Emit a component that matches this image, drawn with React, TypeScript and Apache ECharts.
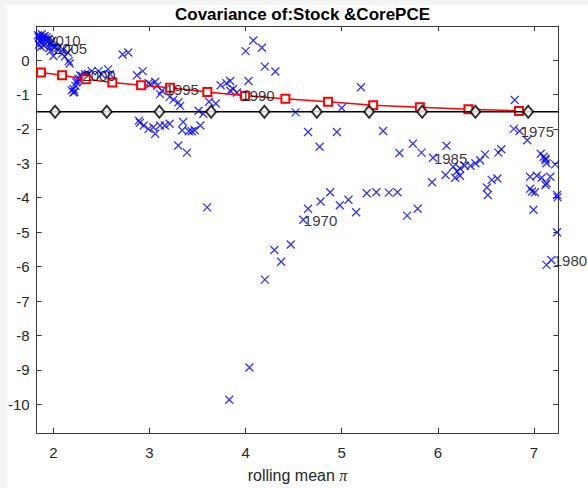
import React, { useEffect, useRef } from "react";
import * as echarts from "echarts";

// ---- data ----
const xTicks = [2, 3, 4, 5, 6, 7];
const yTicks = [-10, -9, -8, -7, -6, -5, -4, -3, -2, -1, 0];

const xMin = 1.827;
const xMax = 7.253;
const yMin = -10.835;
const yMax = 0.99;

// rolling covariance points (blue x)
const covTopLeft: [number, number][] = [
  [1.84, 0.72], [1.85, 0.65], [1.86, 0.7], [1.87, 0.6], [1.88, 0.75], [1.89, 0.68],
  [1.9, 0.62], [1.86, 0.55], [1.85, 0.45], [1.88, 0.5], [1.91, 0.7], [1.92, 0.58],
  [1.93, 0.66], [1.94, 0.52], [1.95, 0.62], [1.9, 0.42], [1.97, 0.5], [1.98, 0.45],
  [2.0, 0.4], [2.02, 0.38], [1.87, 0.38], [1.96, 0.35], [1.99, 0.56],
  [1.97, 0.26], [2.0, 0.12], [2.05, 0.36], [2.09, 0.18], [2.1, 0.3], [2.12, 0.1],
  [2.15, 0.22], [2.16, -0.03], [2.17, -0.1],
];
const covEarly: [number, number][] = [
  [2.19, -0.88], [2.21, -0.84], [2.21, -0.94], [2.22, -0.92], [2.23, -0.75], [2.24, -0.65],
  [2.25, -0.62], [2.26, -0.55], [2.28, -0.56], [2.28, -0.45], [2.3, -0.46], [2.3, -0.5],
  [2.33, -0.41], [2.33, -0.48], [2.36, -0.4], [2.4, -0.32], [2.47, -0.32], [2.5, -0.41],
  [2.57, -0.27], [2.59, -0.41],
  [2.72, 0.16], [2.78, 0.22],
  [2.87, -0.44], [2.93, -0.32], [2.99, -0.67], [3.01, -0.7], [3.06, -0.63], [3.08, -0.75],
  [3.13, -0.89], [3.11, -0.99], [3.21, -1.07], [3.25, -1.15], [3.3, -1.23], [3.32, -1.33],
  [2.89, -1.76], [2.9, -1.82], [2.94, -1.9], [2.99, -2.0], [3.04, -1.95], [3.06, -2.14],
  [3.11, -1.9], [3.16, -1.9], [3.21, -1.85], [3.35, -1.8], [3.34, -2.04], [3.41, -2.07],
  [3.44, -2.07], [3.47, -2.04], [3.53, -1.9], [3.3, -2.48], [3.39, -2.69],
  [3.51, -1.47], [3.56, -1.56], [3.62, -1.21], [3.69, -1.26], [3.74, -0.73], [3.8, -0.67],
  [3.84, -0.89], [3.91, -0.94], [4.03, -0.61], [3.98, -0.99], [3.84, -0.61], [3.87, -0.84],
  [4.01, -1.07],
  [4.0, 0.26], [4.08, 0.57], [4.17, 0.36], [4.2, -0.19], [4.31, -0.33],
];
const covMid: [number, number][] = [
  [4.52, -1.52], [4.65, -2.09], [4.95, -2.09], [5.0, -1.39], [5.2, -0.79], [4.77, -2.52],
  [5.43, -2.06], [5.6, -2.7], [5.74, -2.43], [5.83, -2.69], [6.09, -2.49],
  [6.49, -2.74], [6.63, -2.69], [6.66, -2.59], [6.8, -1.16], [6.79, -2.0], [6.85, -2.06],
  [6.93, -2.33], [7.07, -2.72], [7.1, -2.81], [7.12, -2.86], [7.12, -2.91], [7.13, -3.0],
  [7.22, -3.03],
  [5.95, -2.84], [6.44, -2.91], [6.39, -3.0], [6.34, -3.07], [6.28, -3.07], [6.23, -3.15],
  [6.2, -3.23], [6.16, -3.1], [6.08, -3.34], [6.18, -3.42], [6.23, -3.36], [5.94, -3.55],
  [6.52, -3.92], [6.51, -3.7], [6.56, -3.48], [6.62, -3.44],
  [6.96, -3.39], [7.03, -3.36], [7.08, -3.42], [7.17, -3.39], [7.13, -3.58], [7.12, -3.63],
  [6.96, -3.74], [6.98, -3.82], [7.01, -3.84], [7.24, -3.92], [7.245, -3.99], [6.995, -4.35],
  [7.24, -5.0], [7.18, -5.81], [7.13, -5.95],
];
const covLow: [number, number][] = [
  [3.6, -4.28], [4.2, -6.38], [4.3, -5.52], [4.37, -5.86], [4.47, -5.36], [4.6, -4.64],
  [4.65, -4.32], [4.78, -4.11], [4.88, -3.84], [4.98, -4.22], [5.07, -4.06], [5.15, -4.42],
  [5.26, -3.87], [5.36, -3.84], [5.49, -3.85], [5.58, -3.84], [5.68, -4.52], [5.79, -4.32],
  [4.04, -8.93], [3.83, -9.87],
];

// red fitted line with squares
const fitX = [1.872, 2.091, 2.337, 2.614, 2.913, 3.214, 3.602, 3.995, 4.414, 4.858, 5.327, 5.813, 6.318, 6.843];
const fitY = [-0.363, -0.44, -0.56, -0.65, -0.729, -0.806, -0.93, -1.037, -1.123, -1.21, -1.313, -1.371, -1.429, -1.477];

// black reference line with diamonds
const refY = -1.5;
const diamondX = [2.018, 2.556, 3.103, 3.641, 4.196, 4.741, 5.285, 5.837, 6.391, 6.94];

// year labels
const yearLabels = ["2010", "2005", "2000", "1995", "1990", "1985", "1980", "1975", "1970"];
const yearX = [1.931, 2.0, 2.296, 3.162, 3.95, 5.954, 7.2, 6.856, 4.601];
const yearY = [0.576, 0.346, -0.461, -0.844, -1.016, -2.87, -5.834, -2.073, -4.665];

const FONT = "'Liberation Sans', Arial, Helvetica, sans-serif";
const AXIS_COLOR = "#3a3a3a";
const TEXT_COLOR = "#262626";

export default function App() {
  const ref = useRef<HTMLDivElement>(null);

  useEffect(() => {
    if (!ref.current) return;
    const chart = echarts.init(ref.current, undefined, { renderer: "svg" });

    const covAll = [...covTopLeft, ...covEarly, ...covMid, ...covLow];
    const xMark = "path://M0,0L10,10M10,0L0,10";

    const commonX = {
      type: "value" as const,
      min: xMin,
      max: xMax,
      splitLine: { show: false },
      axisLine: { show: true, onZero: false, lineStyle: { color: AXIS_COLOR, width: 1 } },
      axisTick: { show: true, inside: true, length: 5, customValues: xTicks, lineStyle: { color: AXIS_COLOR } },
    };
    const commonY = {
      type: "value" as const,
      min: yMin,
      max: yMax,
      splitLine: { show: false },
      axisLine: { show: true, onZero: false, lineStyle: { color: AXIS_COLOR, width: 1 } },
      axisTick: { show: true, inside: true, length: 5, customValues: yTicks, lineStyle: { color: AXIS_COLOR } },
    };

    chart.setOption({
      animation: false,
      backgroundColor: "#ffffff",
      textStyle: { fontFamily: FONT },
      title: {
        text: "Covariance of:Stock &CorePCE",
        left: 297.5,
        top: 1,
        textAlign: "center",
        textStyle: { fontFamily: FONT, fontSize: 17, fontWeight: "bold", color: "#000" },
      },
      graphic: [
        { type: "rect", left: 0, top: 0, shape: { width: 588, height: 5 }, style: { fill: "#f4f4f4" }, silent: true, z: -10 },
        { type: "rect", left: 0, top: 0, shape: { width: 7, height: 488 }, style: { fill: "#f4f4f4" }, silent: true, z: -10 },
      ],
      grid: { left: 36.7, right: 29.7, top: 26, bottom: 50, containLabel: false },
      xAxis: [
        {
          ...commonX,
          position: "bottom",
          name: "rolling mean {pi|π}",
          nameLocation: "middle",
          nameGap: 34,
          nameTextStyle: {
            fontFamily: FONT,
            fontSize: 16,
            color: TEXT_COLOR,
            rich: { pi: { fontFamily: "'Liberation Serif', 'DejaVu Serif', serif", fontStyle: "italic", fontSize: 16, color: TEXT_COLOR } },
          },
          axisLabel: { show: true, customValues: xTicks, margin: 12, fontSize: 15, color: TEXT_COLOR, fontFamily: FONT },
        },
        { ...commonX, position: "top", axisLabel: { show: false } },
      ],
      yAxis: [
        {
          ...commonY,
          position: "left",
          axisLabel: { show: true, customValues: yTicks, margin: 7, fontSize: 15, color: TEXT_COLOR, fontFamily: FONT },
        },
        { ...commonY, position: "right", axisLabel: { show: false } },
      ],
      series: [
        {
          type: "scatter",
          xAxisIndex: 0,
          yAxisIndex: 0,
          data: covAll,
          symbol: xMark,
          symbolSize: 8,
          itemStyle: { color: "rgba(0,0,0,0)", borderColor: "#0000ff", borderWidth: 1.3 },
          z: 2,
        },
        {
          type: "line",
          xAxisIndex: 0,
          yAxisIndex: 0,
          data: fitX.map((x, i) => [x, fitY[i]]),
          symbol: "emptyRect",
          symbolSize: 8,
          showAllSymbol: true,
          lineStyle: { color: "#ff0000", width: 1.5 },
          itemStyle: { color: "#ff0000", borderColor: "#ff0000", borderWidth: 1.3 },
          z: 3,
        },
        {
          type: "line",
          xAxisIndex: 0,
          yAxisIndex: 0,
          data: [[xMin, refY], [xMax, refY]],
          showSymbol: false,
          symbol: "none",
          lineStyle: { color: "#000000", width: 1.5 },
          z: 4,
        },
        {
          type: "scatter",
          xAxisIndex: 0,
          yAxisIndex: 0,
          data: diamondX.map((x) => [x, refY]),
          symbol: "emptyDiamond",
          symbolSize: [10, 12],
          itemStyle: { color: "#000000", borderColor: "#000000", borderWidth: 1.3 },
          z: 5,
        },
        {
          type: "scatter",
          xAxisIndex: 0,
          yAxisIndex: 0,
          data: yearLabels.map((n, i) => ({ name: n, value: [yearX[i], yearY[i]] })),
          symbolSize: 1,
          itemStyle: { color: "rgba(0,0,0,0)" },
          label: {
            show: true,
            position: "right",
            distance: 0,
            formatter: "{b}",
            fontFamily: FONT,
            fontSize: 15,
            color: "#000",
          },
          z: 6,
        },
      ],
    });

    return () => chart.dispose();
  }, []);

  return (
    <div
      ref={ref}
      style={{ position: "absolute", left: 0, top: 0, width: 588, height: 488 }}
    />
  );
}
